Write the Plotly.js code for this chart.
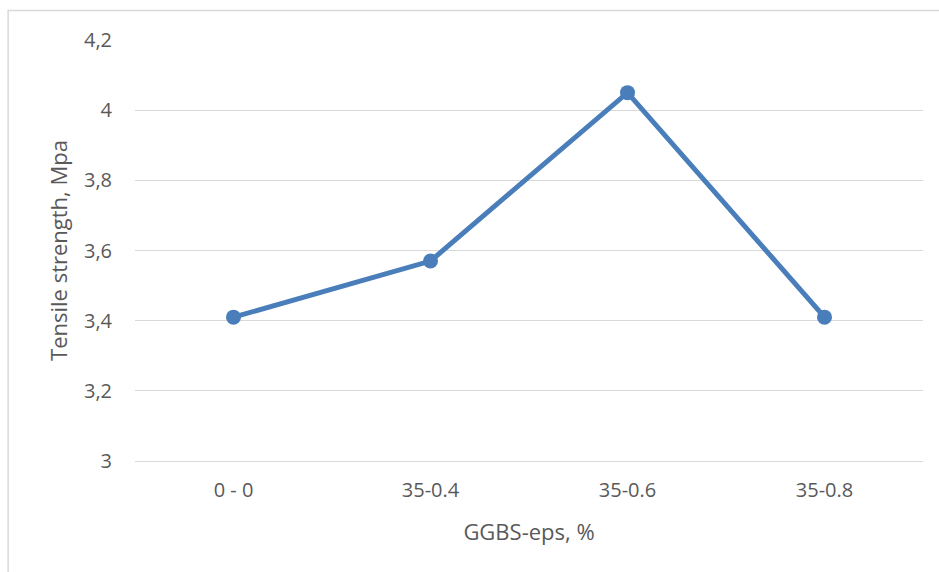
<!DOCTYPE html>
<html>
<head>
<meta charset="utf-8">
<script src="https://cdn.plot.ly/plotly-3.0.1.min.js"></script>
<style>
html,body{margin:0;padding:0;background:#fff;}
#chart{width:939px;height:572px;}
</style>
</head>
<body>
<div id="chart"></div>
<script>
const categories = ["0 - 0", "35-0.4", "35-0.6", "35-0.8"];
const tensileStrength = [3.41, 3.57, 4.05, 3.41];
const yTickValues = [3, 3.2, 3.4, 3.6, 3.8, 4, 4.2];
const yTickLabels = ["3", "3,2", "3,4", "3,6", "3,8", "4", "4,2"];

const textColor = "#595959";
const fontFam = "'Open Sans', 'Noto Sans', sans-serif";

const trace = {
  x: categories,
  y: tensileStrength,
  type: "scatter",
  mode: "lines+markers",
  line: {color: "#4a7ebb", width: 5},
  marker: {color: "#4a7ebb", size: 15},
  hoverinfo: "skip"
};

const layout = {
  width: 939,
  height: 572,
  margin: {l: 135, r: 16, t: 40, b: 111},
  paper_bgcolor: "#ffffff",
  plot_bgcolor: "#ffffff",
  showlegend: false,
  separators: ", ",
  font: {family: fontFam, color: textColor, size: 20},
  xaxis: {
    type: "category",
    range: [-0.5, 3.5],
    showgrid: false,
    zeroline: false,
    showline: true,
    linecolor: "#d9d9d9",
    linewidth: 1,
    ticks: "",
    ticklabelstandoff: 11,
    tickfont: {family: fontFam, color: textColor, size: 20},
    title: {text: "GGBS-eps, %", font: {family: fontFam, color: textColor, size: 22}, standoff: 22}
  },
  yaxis: {
    range: [3, 4.2],
    tickvals: yTickValues,
    ticktext: yTickLabels,
    showgrid: true,
    gridcolor: "#d9d9d9",
    gridwidth: 1,
    zeroline: false,
    showline: false,
    ticks: "",
    ticklabelstandoff: 22,
    tickfont: {family: fontFam, color: textColor, size: 20},
    title: {text: "Tensile strength, Mpa", font: {family: fontFam, color: textColor, size: 22}, standoff: 10}
  },
  shapes: [{
    type: "rect", xref: "paper", yref: "paper",
    x0: -0.161, x1: 1.2, y0: -0.5, y1: 1.07,
    line: {color: "#d9d9d9", width: 1.5},
    fillcolor: "rgba(0,0,0,0)",
    layer: "below"
  }]
};

Plotly.newPlot("chart", [trace], layout, {displayModeBar: false, staticPlot: true});
</script>
</body>
</html>
